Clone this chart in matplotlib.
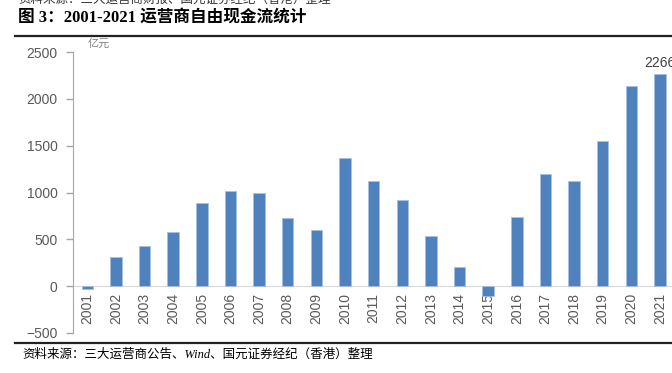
# 2001-2021 operators' free cash flow bar chart
import matplotlib
matplotlib.use("Agg")
import matplotlib.pyplot as plt
import numpy as np

plt.rcParams['font.family'] = ['Liberation Sans', 'Noto Sans CJK SC']

# ---------- DATA ----------
years = [str(y) for y in range(2001, 2022)]
fcf = [-30, 310, 427, 577, 887, 1015, 994, 726, 598, 1367, 1122,
       919, 534, 203, -107, 737, 1197, 1122, 1549, 2137, 2266]

title = "图 3：2001-2021 运营商自由现金流统计"
source_top = "资料来源：三大运营商财报、国元证券经纪（香港）整理"
source = "资料来源：三大运营商公告、Wind、国元证券经纪（香港）整理"
unit = "亿元"

bar_color = "#4f81bd"
grey = "#595959"

# ---------- FIGURE ----------
fig = plt.figure(figsize=(6.72, 3.73), dpi=100)
ax = fig.add_axes([73 / 672, 1 - 333 / 373, 1 - 73 / 672, (333 - 52) / 373])

# x axis sits on the zero line, labels hang below it
ax.spines['bottom'].set_position(('data', 0))
ax.spines['bottom'].set_color("#d9d9d9")
ax.spines['bottom'].set_zorder(1)
for s in ['top', 'right']:
    ax.spines[s].set_visible(False)
ax.spines['left'].set_color("#a6a6a6")

x = np.arange(len(years))
ax.bar(x, fcf, width=0.4, color=bar_color, edgecolor="#a9c1e0", linewidth=0.6, zorder=2)

ax.set_xlim(-0.5, 20.42)
ax.set_ylim(-500, 2500)
ax.set_yticks(range(-500, 2501, 500))
ax.set_xticks(x)
ax.set_xticklabels(years, rotation=90, fontsize=10, color=grey)
ax.tick_params(axis='x', length=0, pad=5)
ax.tick_params(axis='y', labelsize=10, labelcolor=grey, color="#a6a6a6", length=5, width=1, pad=6)

# label on last bar
ax.text(x[-1], fcf[-1] + 40, str(fcf[-1]), ha='center', va='bottom', fontsize=10, color="#404040")

# unit
fig.text(88 / 672, 1 - 44 / 373, unit, fontsize=8, color="#808080", va='center')

# ---------- TITLE / SOURCES ----------
fig.text(18 / 672, 1.0, source_top, fontsize=9, style='italic', va='center', color="#333333",
         family=['Liberation Serif', 'Noto Sans CJK SC'])
fig.text(18 / 672, 1 - 18 / 373, title, fontsize=12, fontweight='bold', va='center',
         family=['Liberation Serif', 'Noto Sans CJK SC'])
fig.add_artist(plt.Line2D([15 / 672, 1], [1 - 36 / 373] * 2, color="#222222", linewidth=1.6))
fig.add_artist(plt.Line2D([15 / 672, 1], [1 - 343 / 373] * 2, color="#222222", linewidth=1.6))
fig.text(22 / 672, 1 - 355 / 373, source, fontsize=9, style='italic', va='center',
         family=['Liberation Serif', 'Noto Sans CJK SC'])

fig.savefig("out.png", dpi=100)
